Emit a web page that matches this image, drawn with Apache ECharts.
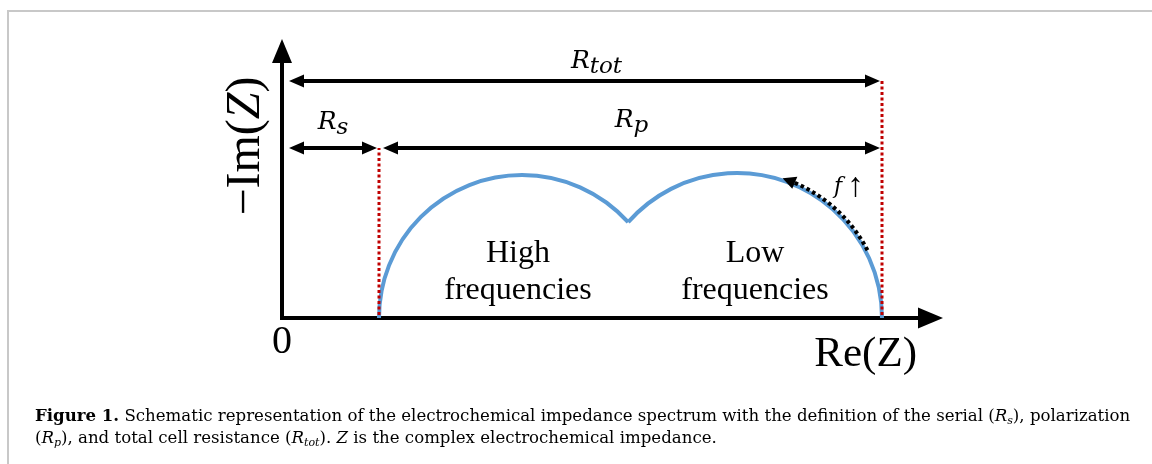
<!DOCTYPE html>
<html>
<head>
<meta charset="utf-8">
<script src="https://cdn.jsdelivr.net/npm/echarts@6/dist/echarts.min.js"></script>
<style>
  html, body { margin: 0; padding: 0; background: #fff; }
  #chart { width: 1152px; height: 464px; }
</style>
</head>
<body>
<div id="chart"></div>
<script>
// Schematic Nyquist plot of an electrochemical impedance spectrum (arbitrary units)
const RE_MAX = 6.36;
const IM_MAX = 2.55;
const R_S = 0.97;
const R_TOT = 6.0;

// semicircles along the Re axis: centre and radius of each
const ARC_CENTERS = [2.40, 4.55];
const ARC_RADII = [1.43, 1.45];

// dimension arrows: start Re, end Re, height (-Im), subscript of the label
const DIM_FROM = [0, 0, R_S];
const DIM_TO = [R_TOT, R_S, R_TOT];
const DIM_HEIGHT = [2.37, 1.70, 1.70];
const DIM_NAMES = ['tot', 's', 'p'];

// red guides at R_s and R_tot, reaching up to their arrows
const GUIDE_RE = [R_S, R_TOT];
const GUIDE_TOP = [1.70, 2.37];

// direction of increasing frequency, along the low-frequency arc (Re from -> to)
const F_ARROW_RE = [5.85, 5.0];
const F_LABEL_AT = [5.67, 1.31];

// region captions under the arcs
const REGION_TEXT = ['High\nfrequencies', 'Low\nfrequencies'];
const REGION_RE = [2.36, 4.73];
const REGION_IM = [0.46, 0.46];

const BLUE = '#5b9bd5';
const RED = '#c00000';
const INK = '#000000';
const SERIF = '"Liberation Serif", "Times New Roman", serif';
const MATH = '"DejaVu Serif", serif';
const TEXT_FONT = '"DejaVu Serif", serif';

// Re value where arc i meets arc i+1
function meetRe(i) {
  const c1 = ARC_CENTERS[i], r1 = ARC_RADII[i];
  const c2 = ARC_CENTERS[i + 1], r2 = ARC_RADII[i + 1];
  const d = c2 - c1;
  return c1 + (r1 * r1 - r2 * r2 + d * d) / (2 * d);
}
// polar angle (0..pi, counted from +Re) of a point on arc i at a given Re
function thetaAt(i, re) {
  const v = (re - ARC_CENTERS[i]) / ARC_RADII[i];
  return Math.acos(Math.max(-1, Math.min(1, v)));
}

const mathRich = {
  r: { fontFamily: MATH, fontStyle: 'italic', fontSize: 25, lineHeight: 34, color: INK },
  sub: { fontFamily: MATH, fontStyle: 'italic', fontSize: 23, lineHeight: 34, padding: [12, 0, 0, 0], color: INK }
};

// label placement for each dimension arrow: lift above the arrow, horizontal nudge
const DIM_LABEL_LIFT = { tot: 3, s: 9, p: 11 };
const DIM_LABEL_SHIFT = { tot: 12, s: 0, p: 0 };

const option = {
  animation: false,
  backgroundColor: '#ffffff',
  grid: { left: 282, right: 234, top: 63, bottom: 146, containLabel: false, outerBoundsMode: 'none' },
  xAxis: {
    type: 'value', min: 0, max: RE_MAX, interval: RE_MAX,
    name: 'Re(Z)', nameLocation: 'end', nameGap: -1,
    nameTextStyle: { fontFamily: SERIF, fontSize: 43, color: INK, align: 'right', verticalAlign: 'top', padding: [15, 0, 0, 0] },
    axisLine: { show: true, onZero: false, symbol: ['none', 'triangle'], symbolSize: [21, 25], symbolOffset: [0, 12.5],
      lineStyle: { color: INK, width: 4, cap: 'square' } },
    axisTick: { show: false },
    splitLine: { show: false },
    axisLabel: { show: true, showMinLabel: true, margin: 4, fontFamily: SERIF, fontSize: 40, color: INK,
      formatter: v => (v === 0 ? '0' : '') }
  },
  yAxis: {
    type: 'value', min: 0, max: IM_MAX, interval: IM_MAX,
    name: '{n|\u2212Im(}{z|Z}{n|)}', nameLocation: 'middle', nameRotate: 90, nameGap: 12,
    nameTextStyle: {
      fontFamily: SERIF, fontSize: 48, color: INK, padding: [0, 0, 0, 89],
      rich: {
        n: { fontFamily: SERIF, fontSize: 48, color: INK },
        z: { fontFamily: SERIF, fontSize: 48, fontStyle: 'italic', color: INK }
      }
    },
    axisLine: { show: true, symbol: ['none', 'triangle'], symbolSize: [20, 24], symbolOffset: [0, 12],
      lineStyle: { color: INK, width: 4, cap: 'square' } },
    axisTick: { show: false },
    splitLine: { show: false },
    axisLabel: { show: false }
  },
  graphic: [
    // figure frame
    { type: 'line', silent: true, shape: { x1: 7, y1: 11, x2: 1152, y2: 11 }, style: { stroke: '#c8c8c8', lineWidth: 2 } },
    { type: 'line', silent: true, shape: { x1: 8, y1: 10, x2: 8, y2: 464 }, style: { stroke: '#c8c8c8', lineWidth: 2 } },
    // caption
    {
      type: 'text', silent: true, x: 35, y: 406,
      style: {
        text: '{b|Figure 1.} Schematic representation of the electrochemical impedance spectrum with the definition of the serial ({i|R}{s|s}), polarization\n' +
              '({i|R}{s|p}), and total cell resistance ({i|R}{s|tot}). {i|Z} is the complex electrochemical impedance.',
        fontFamily: TEXT_FONT, fontSize: 16.6, lineHeight: 22, fill: INK,
        align: 'left', verticalAlign: 'top',
        rich: {
          b: { fontFamily: TEXT_FONT, fontSize: 16.6, fontWeight: 'bold', lineHeight: 22 },
          i: { fontFamily: TEXT_FONT, fontSize: 16.6, fontStyle: 'italic', lineHeight: 22 },
          s: { fontFamily: TEXT_FONT, fontSize: 11, fontStyle: 'italic', lineHeight: 22, padding: [9, 0, 0, 0] }
        }
      }
    }
  ],
  series: [
    {
      // impedance spectrum: the two touching semicircles
      type: 'custom', name: 'spectrum', silent: true, z: 3,
      data: ARC_CENTERS.map((c, i) => [c, ARC_RADII[i]]),
      renderItem(params, api) {
        const i = params.dataIndex;
        const ctr = api.coord([api.value(0), 0]);
        const r = api.size([api.value(1), 0])[0];
        const tS = i > 0 ? thetaAt(i, meetRe(i - 1)) : Math.PI;
        const tE = i < ARC_CENTERS.length - 1 ? thetaAt(i, meetRe(i)) : 0;
        return {
          type: 'arc',
          shape: { cx: ctr[0], cy: ctr[1], r: r, startAngle: 2 * Math.PI - tS, endAngle: 2 * Math.PI - tE, clockwise: true },
          style: { stroke: BLUE, lineWidth: 4, fill: 'none', lineCap: 'butt', lineJoin: 'miter' }
        };
      }
    },
    {
      // dotted red guides at R_s and R_tot
      type: 'custom', name: 'guides', silent: true, z: 4,
      data: GUIDE_RE.map((x, i) => [x, GUIDE_TOP[i]]),
      renderItem(params, api) {
        const p0 = api.coord([api.value(0), 0]);
        const p1 = api.coord([api.value(0), api.value(1)]);
        return {
          type: 'line',
          shape: { x1: p0[0], y1: p0[1] - 3, x2: p1[0], y2: p1[1] },
          style: { stroke: RED, lineWidth: 3, lineDash: [3, 2.5] }
        };
      }
    },
    {
      // arrow showing the direction of rising frequency
      type: 'custom', name: 'frequency', silent: true, z: 5,
      data: [[F_ARROW_RE[0], F_ARROW_RE[1]]],
      renderItem(params, api) {
        const k = ARC_CENTERS.length - 1;
        const ctr = api.coord([ARC_CENTERS[k], 0]);
        const r = api.size([ARC_RADII[k], 0])[0] + 2;
        const t0 = thetaAt(k, api.value(0));
        const tTip = thetaAt(k, api.value(1));
        const head = 13;
        const tBase = tTip - head / r;
        const pt = t => [ctr[0] + r * Math.cos(t), ctr[1] - r * Math.sin(t)];
        const tip = pt(tTip), base = pt(tBase);
        const nx = Math.cos(tBase), ny = -Math.sin(tBase);
        const hw = 6.5;
        const lab = api.coord(F_LABEL_AT);
        return {
          type: 'group',
          children: [
            {
              type: 'arc',
              shape: { cx: ctr[0], cy: ctr[1], r: r, startAngle: 2 * Math.PI - tBase, endAngle: 2 * Math.PI - t0, clockwise: true },
              style: { stroke: INK, lineWidth: 4, fill: 'none', lineDash: [3.5, 3] }
            },
            {
              type: 'polygon',
              shape: { points: [tip, [base[0] + nx * hw, base[1] + ny * hw], [base[0] - nx * hw, base[1] - ny * hw]] },
              style: { fill: INK }
            },
            {
              type: 'text', x: lab[0], y: lab[1],
              style: {
                text: '{f|f}{a|\u2191}', align: 'center', verticalAlign: 'middle',
                rich: {
                  f: { fontFamily: MATH, fontStyle: 'italic', fontSize: 22, color: INK, padding: [0, 5, 0, 0] },
                  a: { fontFamily: SERIF, fontSize: 34, color: INK }
                }
              }
            }
          ]
        };
      }
    },
    {
      // dimension arrows for R_tot, R_s and R_p
      type: 'custom', name: 'dimensions', silent: true, z: 6,
      data: DIM_FROM.map((x, i) => [x, DIM_TO[i], DIM_HEIGHT[i]]),
      renderItem(params, api) {
        const i = params.dataIndex;
        const x0 = api.value(0), x1 = api.value(1), h = api.value(2);
        const p0 = api.coord([x0, h]), p1 = api.coord([x1, h]);
        const a = p0[0] + (x0 === 0 ? 7 : 4);
        const b = p1[0] - 2;
        const y = p0[1];
        const L = 15, W = 6.5;
        const name = DIM_NAMES[i];
        return {
          type: 'group',
          children: [
            { type: 'line', shape: { x1: a + L - 2, y1: y, x2: b - L + 2, y2: y }, style: { stroke: INK, lineWidth: 4 } },
            { type: 'polygon', shape: { points: [[a, y], [a + L, y - W], [a + L, y + W]] }, style: { fill: INK } },
            { type: 'polygon', shape: { points: [[b, y], [b - L, y - W], [b - L, y + W]] }, style: { fill: INK } },
            {
              type: 'text', x: (a + b) / 2 + DIM_LABEL_SHIFT[name], y: y - DIM_LABEL_LIFT[name],
              style: { text: '{r|R}{sub|' + name + '}', align: 'center', verticalAlign: 'bottom', rich: mathRich }
            }
          ]
        };
      }
    },
    {
      // region captions
      type: 'custom', name: 'regions', silent: true, z: 6,
      data: REGION_RE.map((x, i) => [x, REGION_IM[i]]),
      renderItem(params, api) {
        const p = api.coord([api.value(0), api.value(1)]);
        return {
          type: 'text', x: p[0], y: p[1],
          style: {
            text: REGION_TEXT[params.dataIndex], align: 'center', verticalAlign: 'middle',
            fontFamily: 'Liberation Serif', fontSize: 32, lineHeight: 37, fill: INK
          }
        };
      }
    }
  ]
};

const chart = echarts.init(document.getElementById('chart'));
chart.setOption(option);
</script>
</body>
</html>
